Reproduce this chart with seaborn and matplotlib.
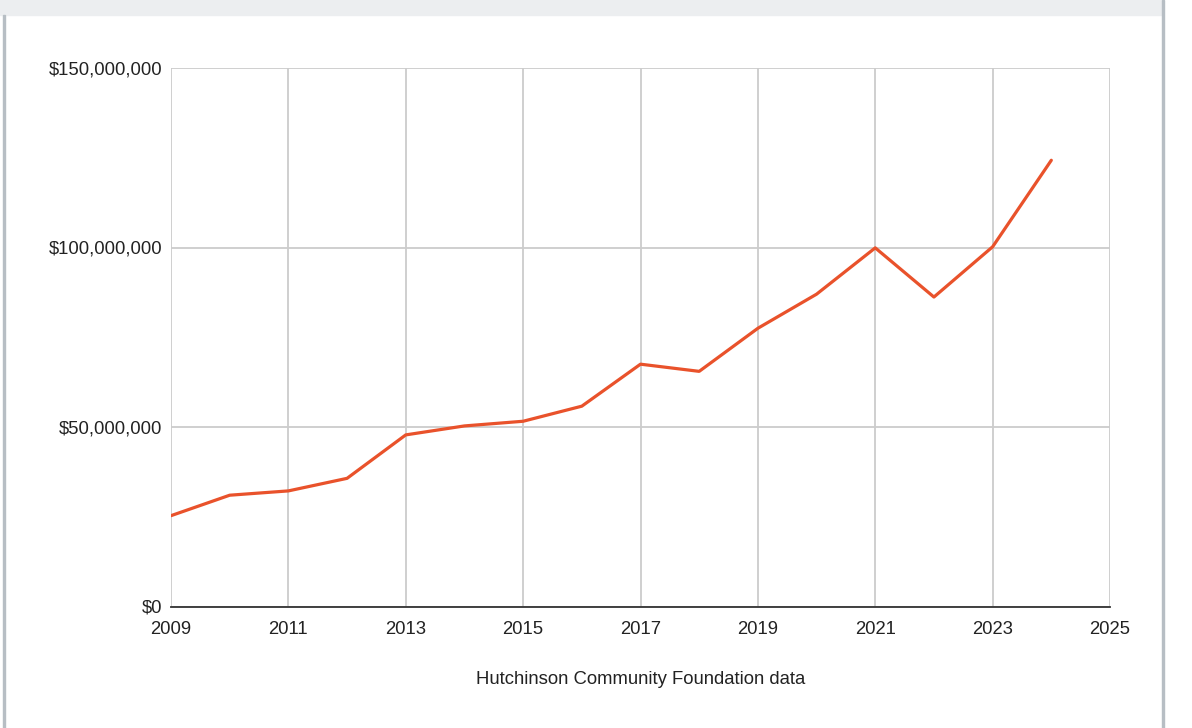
import pandas as pd
import seaborn as sns
import matplotlib.pyplot as plt
from matplotlib.patches import Rectangle
from matplotlib.ticker import FuncFormatter

# values (dollars)
years = [2009, 2010, 2011, 2012, 2013, 2014, 2015, 2016,
         2017, 2018, 2019, 2020, 2021, 2022, 2023, 2024]
assets = [25.3e6, 31.0e6, 32.2e6, 35.7e6, 47.8e6, 50.3e6, 51.6e6, 55.8e6,
          67.5e6, 65.5e6, 77.5e6, 87.0e6, 99.9e6, 86.2e6, 100.2e6, 124.3e6]
xticks = list(range(2009, 2026, 2))
yticks = [0, 50e6, 100e6, 150e6]

df = pd.DataFrame({"year": years, "assets": assets})

sns.set_theme(style="white")
plt.rcParams["font.family"] = ["Liberation Sans", "DejaVu Sans"]

fig = plt.figure(figsize=(11.92, 7.28), dpi=100)
ax = fig.add_axes([171 / 1192, 1 - 606.5 / 728, (1110 - 171) / 1192, (606.5 - 68) / 728])

# page frame like the screenshot
fig.patches.append(Rectangle((0, 1 - 15 / 728), 1163 / 1192, 15 / 728,
                             transform=fig.transFigure, color="#eceef0", zorder=0))
fig.patches.append(Rectangle((3 / 1192, 0), 2 / 1192, 1 - 15 / 728,
                             transform=fig.transFigure, color="#b7bec4", zorder=0))
fig.patches.append(Rectangle((1162 / 1192, 0), 2 / 1192, 1,
                             transform=fig.transFigure, color="#b7bec4", zorder=0))

sns.lineplot(data=df, x="year", y="assets", ax=ax, color="#e9522b", linewidth=2.3)

ax.set_xlim(2009, 2025)
ax.set_ylim(0, 150e6)
ax.set_xticks(xticks)
ax.set_yticks(yticks)
ax.yaxis.set_major_formatter(FuncFormatter(lambda v, p: "${:,.0f}".format(v)))
ax.grid(True, color="#cccccc", linewidth=1.3)
ax.set_axisbelow(True)
for s in ["top", "right", "left"]:
    ax.spines[s].set_visible(False)
ax.spines["bottom"].set_color("#333333")
ax.spines["bottom"].set_linewidth(1.3)
ax.spines["bottom"].set_zorder(3)
ax.tick_params(axis="both", length=0, labelsize=13.3, colors="#222222")
ax.tick_params(axis="x", pad=10.5)
ax.tick_params(axis="y", pad=6)
ax.set_xlabel("Hutchinson Community Foundation data", fontsize=13.3, color="#222222", labelpad=24)
ax.set_ylabel("")

plt.savefig("out.png", dpi=100)
plt.close()
